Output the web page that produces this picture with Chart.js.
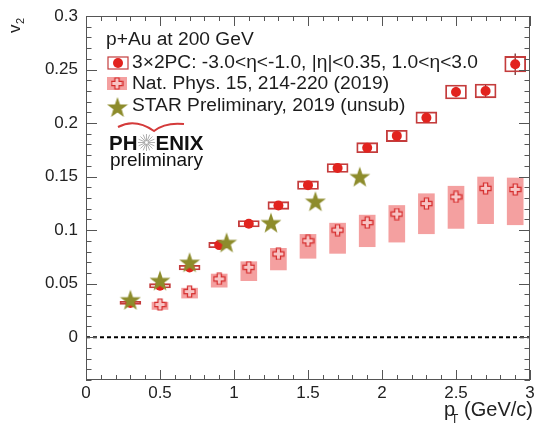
<!DOCTYPE html>
<html>
<head>
<meta charset="utf-8">
<script src="https://cdn.jsdelivr.net/npm/chart.js@4.4.1/dist/chart.umd.min.js"></script>
<style>
html, body { margin: 0; padding: 0; background: #fff; }
</style>
</head>
<body>
<canvas id="myChart" width="535" height="428"></canvas>
<script>
// PHENIX 3x2PC points
const phenixPt = [0.3, 0.5, 0.7, 0.9, 1.1, 1.3, 1.5, 1.7, 1.9, 2.1, 2.3, 2.5, 2.7, 2.9];
const phenixV2 = [0.032, 0.048, 0.065, 0.086, 0.106, 0.123, 0.142, 0.158, 0.177, 0.188, 0.205, 0.229, 0.230, 0.255];
const phenixStat = [0.001, 0.001, 0.001, 0.0015, 0.0015, 0.002, 0.002, 0.002, 0.003, 0.003, 0.004, 0.005, 0.006, 0.010];
const phenixSys = [0.0015, 0.002, 0.0022, 0.0025, 0.003, 0.0036, 0.004, 0.0042, 0.0047, 0.0053, 0.0054, 0.0065, 0.0065, 0.0073];

// Nat. Phys. 15, 214-220 (2019)
const natPt = [0.5, 0.7, 0.9, 1.1, 1.3, 1.5, 1.7, 1.9, 2.1, 2.3, 2.5, 2.7, 2.9];
const natV2 = [0.0305, 0.0426, 0.0544, 0.0653, 0.0777, 0.090, 0.100, 0.107, 0.115, 0.1248, 0.131, 0.139, 0.138];
const natLow = [0.0259, 0.0365, 0.0467, 0.0528, 0.0628, 0.0737, 0.0783, 0.0845, 0.0888, 0.0966, 0.1016, 0.106, 0.105];
const natHigh = [0.0327, 0.0458, 0.059, 0.0705, 0.083, 0.096, 0.1065, 0.114, 0.123, 0.134, 0.141, 0.1496, 0.1487];

// STAR Preliminary (unsub)
const starPt = [0.3, 0.5, 0.7, 0.95, 1.25, 1.55, 1.85];
const starV2 = [0.035, 0.053, 0.070, 0.0885, 0.107, 0.127, 0.150];

const xTicks = [0, 0.5, 1, 1.5, 2, 2.5, 3];
const yTicks = [0, 0.05, 0.1, 0.15, 0.2, 0.25, 0.3];

const FONT = "'Liberation Sans', Arial, Helvetica, sans-serif";
const RED = '#e2231e';
const BOXRED = '#c43c3c';
const PINK = '#f4a0a0';
const OLIVE = '#8d8c2c';

// open cross marker
function makeCross(size) {
    const c = document.createElement('canvas');
    c.width = size; c.height = size;
    const g = c.getContext('2d');
    const m = size / 2, a = size * 0.16, r = size / 2 - 1;
    g.beginPath();
    g.moveTo(m - a, m - r); g.lineTo(m + a, m - r); g.lineTo(m + a, m - a);
    g.lineTo(m + r, m - a); g.lineTo(m + r, m + a); g.lineTo(m + a, m + a);
    g.lineTo(m + a, m + r); g.lineTo(m - a, m + r); g.lineTo(m - a, m + a);
    g.lineTo(m - r, m + a); g.lineTo(m - r, m - a); g.lineTo(m - a, m - a);
    g.closePath();
    g.fillStyle = '#f8c4c4';
    g.fill();
    g.strokeStyle = '#d42a2a';
    g.lineWidth = 1.2;
    g.stroke();
    return c;
}

// filled five point star
function makeStar(size) {
    const c = document.createElement('canvas');
    c.width = size; c.height = size;
    const g = c.getContext('2d');
    const m = size / 2, R = size / 2, r = R * 0.4;
    g.beginPath();
    for (let i = 0; i < 10; i++) {
        const rad = i % 2 ? r : R;
        const ang = -Math.PI / 2 + i * Math.PI / 5;
        const px = m + rad * Math.cos(ang), py = m + 1 + rad * Math.sin(ang);
        if (i === 0) g.moveTo(px, py); else g.lineTo(px, py);
    }
    g.closePath();
    g.fillStyle = OLIVE;
    g.fill();
    return c;
}

const crossImg = makeCross(13);
const starImg = makeStar(22);

function starburst(ctx, cx, cy, r) {
    ctx.save();
    ctx.strokeStyle = '#9a9a9a';
    ctx.lineWidth = 0.8;
    for (let i = 0; i < 16; i++) {
        const ang = i * Math.PI / 8;
        ctx.beginPath();
        ctx.moveTo(cx + 1.5 * Math.cos(ang), cy + 1.5 * Math.sin(ang));
        ctx.lineTo(cx + r * Math.cos(ang), cy + r * Math.sin(ang));
        ctx.stroke();
    }
    ctx.restore();
}

const decor = {
    id: 'decor',
    beforeDatasetsDraw(chart) {
        const { ctx, chartArea: a, scales: { x, y } } = chart;
        ctx.save();
        // dashed line at zero
        const y0 = y.getPixelForValue(0);
        ctx.strokeStyle = '#000';
        ctx.lineWidth = 2;
        ctx.setLineDash([4, 3]);
        ctx.beginPath();
        ctx.moveTo(a.left, y0);
        ctx.lineTo(a.right, y0);
        ctx.stroke();
        ctx.setLineDash([]);
        // stat error bars
        ctx.strokeStyle = '#6a1c1c';
        ctx.lineWidth = 1.2;
        phenixPt.forEach((pt, i) => {
            const px = x.getPixelForValue(pt);
            ctx.beginPath();
            ctx.moveTo(px, y.getPixelForValue(phenixV2[i] - phenixStat[i]));
            ctx.lineTo(px, y.getPixelForValue(phenixV2[i] + phenixStat[i]));
            ctx.stroke();
        });
        ctx.restore();
    },
    afterDraw(chart) {
        const { ctx, chartArea: a, scales: { x, y } } = chart;
        ctx.save();
        // frame and inside ticks
        ctx.strokeStyle = '#555';
        ctx.lineWidth = 1;
        ctx.strokeRect(a.left + 0.5, a.top + 0.5, a.right - a.left - 1, a.bottom - a.top - 1);
        ctx.beginPath();
        for (let i = 0; i <= 30; i++) {
            const px = Math.round(x.getPixelForValue(i / 10)) + 0.5;
            const len = i % 5 === 0 ? 10 : 5;
            ctx.moveTo(px, a.bottom); ctx.lineTo(px, a.bottom - len);
            ctx.moveTo(px, a.top); ctx.lineTo(px, a.top + len);
        }
        for (let i = -4; i <= 30; i++) {
            const py = Math.round(y.getPixelForValue(i / 100)) + 0.5;
            const len = i % 5 === 0 ? 11 : 5.5;
            ctx.moveTo(a.left, py); ctx.lineTo(a.left + len, py);
            ctx.moveTo(a.right, py); ctx.lineTo(a.right - len, py);
        }
        ctx.stroke();

        // legend
        ctx.fillStyle = '#1c1c1c';
        ctx.font = '19.2px ' + FONT;
        ctx.textAlign = 'left';
        ctx.textBaseline = 'alphabetic';
        ctx.fillText('p+Au at 200 GeV', 106, 45);
        ctx.strokeStyle = BOXRED;
        ctx.lineWidth = 1.2;
        ctx.strokeRect(108, 57, 20, 12);
        ctx.fillStyle = RED;
        ctx.beginPath(); ctx.arc(118, 63, 5, 0, Math.PI * 2); ctx.fill();
        ctx.fillStyle = PINK;
        ctx.fillRect(107, 77, 20, 13);
        ctx.drawImage(crossImg, 117 - 6.5, 83.5 - 6.5);
        ctx.drawImage(starImg, 117.5 - 11, 107 - 11);
        ctx.fillStyle = '#1c1c1c';
        ctx.fillText('3\u00d72PC: -3.0<\u03b7<-1.0, |\u03b7|<0.35, 1.0<\u03b7<3.0', 132, 68);
        ctx.fillText('Nat. Phys. 15, 214-220 (2019)', 132, 88.5);
        ctx.fillText('STAR Preliminary, 2019 (unsub)', 132, 111);

        // PHENIX preliminary logo
        ctx.strokeStyle = '#d43a3a';
        ctx.lineWidth = 2;
        ctx.beginPath();
        ctx.moveTo(118, 127);
        ctx.quadraticCurveTo(135, 118, 154, 131);
        ctx.quadraticCurveTo(165, 122, 184, 124);
        ctx.stroke();
        ctx.fillStyle = '#111';
        ctx.font = 'bold 20.5px ' + FONT;
        ctx.fillText('PH', 109, 149.5);
        const phW = ctx.measureText('PH').width;
        starburst(ctx, 109 + phW + 9, 142.5, 8.5);
        ctx.fillText('ENIX', 109 + phW + 18, 149.5);
        ctx.font = '19px ' + FONT;
        ctx.fillText('preliminary', 110, 166);

        // axis titles
        ctx.fillStyle = '#222';
        ctx.save();
        ctx.translate(20, 33);
        ctx.rotate(-Math.PI / 2);
        ctx.font = '17px ' + FONT;
        ctx.fillText('v', 0, 0);
        const vW = ctx.measureText('v').width;
        ctx.font = '11px ' + FONT;
        ctx.fillText('2', vW + 0.5, 4);
        ctx.restore();

        ctx.font = '20px ' + FONT;
        ctx.fillText('p', 444, 416);
        ctx.font = '12px ' + FONT;
        ctx.fillText('T', 451, 423);
        ctx.font = '20px ' + FONT;
        ctx.textAlign = 'right';
        ctx.fillText('(GeV/c)', 533, 416);
        ctx.restore();
    }
};

const tickFont = { family: FONT, size: 17 };
const fmt = v => String(Number(v.toFixed(2)));

new Chart(document.getElementById('myChart'), {
    type: 'bar',
    data: {
        datasets: [
            {
                type: 'scatter',
                label: 'STAR Preliminary, 2019 (unsub)',
                data: starPt.map((pt, i) => ({ x: pt, y: starV2[i] })),
                pointStyle: starImg,
                order: 0
            },
            {
                type: 'scatter',
                label: '3x2PC',
                data: phenixPt.map((pt, i) => ({ x: pt, y: phenixV2[i] })),
                pointStyle: 'circle',
                pointRadius: 5,
                backgroundColor: RED,
                borderWidth: 0,
                order: 1
            },
            {
                type: 'scatter',
                label: 'Nat. Phys.',
                data: natPt.map((pt, i) => ({ x: pt, y: natV2[i] })),
                pointStyle: crossImg,
                order: 2
            },
            {
                type: 'bar',
                label: '3x2PC sys',
                data: phenixPt.map((pt, i) => ({ x: pt, y: [phenixV2[i] - phenixSys[i], phenixV2[i] + phenixSys[i]] })),
                backgroundColor: 'rgba(0,0,0,0)',
                borderColor: BOXRED,
                borderWidth: 1.2,
                borderSkipped: false,
                barThickness: 21,
                grouped: false,
                order: 3
            },
            {
                type: 'bar',
                label: 'Nat. Phys. sys',
                data: natPt.map((pt, i) => ({ x: pt, y: [natLow[i], natHigh[i]] })),
                backgroundColor: PINK,
                borderWidth: 0,
                barThickness: 16,
                grouped: false,
                order: 4
            }
        ]
    },
    options: {
        responsive: false,
        animation: false,
        layout: { padding: { left: 0, right: 5, top: 16, bottom: 0 } },
        plugins: { legend: { display: false }, tooltip: { enabled: false } },
        scales: {
            x: {
                type: 'linear',
                min: 0,
                max: 3,
                offset: false,
                grid: { display: false },
                border: { display: false },
                afterBuildTicks: s => { s.ticks = xTicks.map(v => ({ value: v })); },
                afterFit: s => { s.height = 48; },
                ticks: { font: tickFont, color: '#222', padding: -5, maxRotation: 0, autoSkip: false, callback: fmt }
            },
            y: {
                type: 'linear',
                min: -0.04,
                max: 0.3,
                grid: { display: false },
                border: { display: false },
                afterBuildTicks: s => { s.ticks = yTicks.map(v => ({ value: v })); },
                afterFit: s => { s.width = 86; },
                ticks: { font: tickFont, color: '#222', padding: 0, autoSkip: false, callback: fmt }
            }
        }
    },
    plugins: [decor]
});
</script>
</body>
</html>
